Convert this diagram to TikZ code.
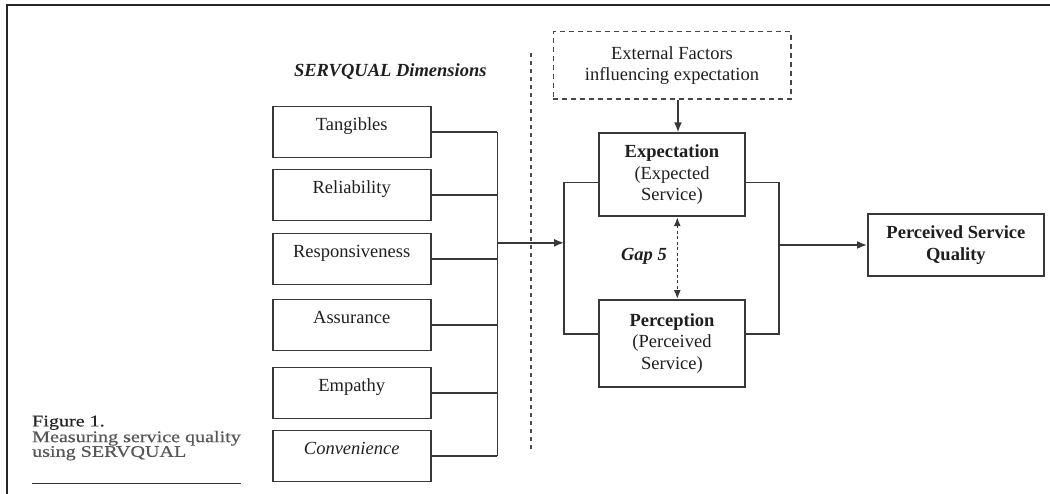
\documentclass[tikz,border=0pt]{standalone}
\usepackage{fontspec}
\setmainfont{Liberation Serif}
\newfontfamily\capfont[FakeStretch=1.24,FakeBold=0.6]{Liberation Serif}
\usetikzlibrary{arrows.meta}

\begin{document}
\begin{tikzpicture}[x=1pt,y=-1pt,
    boxtext/.style={text=black!88, font=\fontsize{18.5}{21.3}\selectfont},
    dimbox/.style={boxtext, draw=black!78, line width=1.8pt, minimum width=158pt,
        minimum height=51pt, text height=13pt, text depth=15.4pt},
    gapbox/.style={boxtext, draw=black!78, line width=1.8pt, minimum width=146pt, align=center},
    wire/.style={draw=black!78, line width=1.6pt},
    tip/.style={wire, -{Latex[length=10pt,width=8pt]}}]
    \useasboundingbox (0,0) rectangle (1050,494);

    % frame and caption
    \draw[line width=2pt, black!85] (6.7,494) -- (6.7,5.3) -- (1050,5.3);
    \node[anchor=west, align=left, inner sep=0pt, text=black!66,
        font=\capfont\fontsize{16.2}{14.7}\selectfont] (cap) at (32,438)
        {{\color{black!85}Figure 1.}\\Measuring service quality\\using SERVQUAL};
    \draw[line width=1.3pt, black!80] (32,483.3) -- (240.7,483.3);

    % dimensions
    \node[boxtext, font=\fontsize{18.5}{21.3}\selectfont\bfseries\itshape] (dims) at (390.3,71.7) {SERVQUAL Dimensions};
    \node[dimbox] (tang) at (351.7,132) {Tangibles};
    \node[dimbox] (reli) at (351.7,195) {Reliability};
    \node[dimbox] (resp) at (351.7,259) {Responsiveness};
    \node[dimbox] (assu) at (351.7,325) {Assurance};
    \node[dimbox] (empa) at (351.7,393) {Empathy};
    \node[dimbox] (conv) at (351.7,456) {\itshape Convenience};

    \coordinate (bus) at (497.3,242.8);
    \foreach \d in {tang,reli,resp,assu,empa,conv}
        \draw[wire] (\d.east) -- (\d.east -| bus);
    \draw[wire] (tang.east -| bus) -- (conv.east -| bus);

    % separator
    \draw[black!70, line width=1.4pt, dash pattern=on 4pt off 4pt] (531,53) -- (531,453);

    % gap model
    \node[boxtext, draw=black!72, line width=1.6pt, dash pattern=on 5pt off 4pt, align=center,
        minimum width=237.4pt, minimum height=67.6pt] (ext) at (672,65.5)
        {External Factors\\influencing expectation};
    \node[gapbox, minimum height=83pt] (expt) at (672,174.7)
        {\textbf{Expectation}\\(Expected\\Service)};
    \node[gapbox, minimum height=87pt] (perc) at (672,343.5)
        {\textbf{Perception}\\(Perceived\\Service)};
    \node[gapbox, minimum width=176pt, minimum height=62pt] (psq) at (955.9,245)
        {\textbf{Perceived Service}\\\textbf{Quality}};
    \node[boxtext, font=\fontsize{18.5}{21.3}\selectfont\bfseries\itshape] (gap) at (644,256) {Gap 5};

    \coordinate (lpL) at (564,242.8);
    \coordinate (lpR) at (779,245);
    \draw[tip] (bus) -- (lpL);
    \draw[tip] ([xshift=6pt]ext.south) -- ([xshift=6pt]expt.north);
    \draw[wire] ([yshift=-8pt]expt.west) -| (lpL) |- ([yshift=9.5pt]perc.west);
    \draw[wire] ([yshift=-8pt]expt.east) -| (lpR) |- ([yshift=9.5pt]perc.east);
    \draw[wire, dash pattern=on 3pt off 2.5pt, {Latex[length=9pt,width=7pt]}-{Latex[length=9pt,width=7pt]}]
        ([xshift=5.3pt]expt.south) -- ([xshift=5.3pt]perc.north);
    \draw[tip] (lpR) -- (lpR -| psq.west);
\end{tikzpicture}
\end{document}
